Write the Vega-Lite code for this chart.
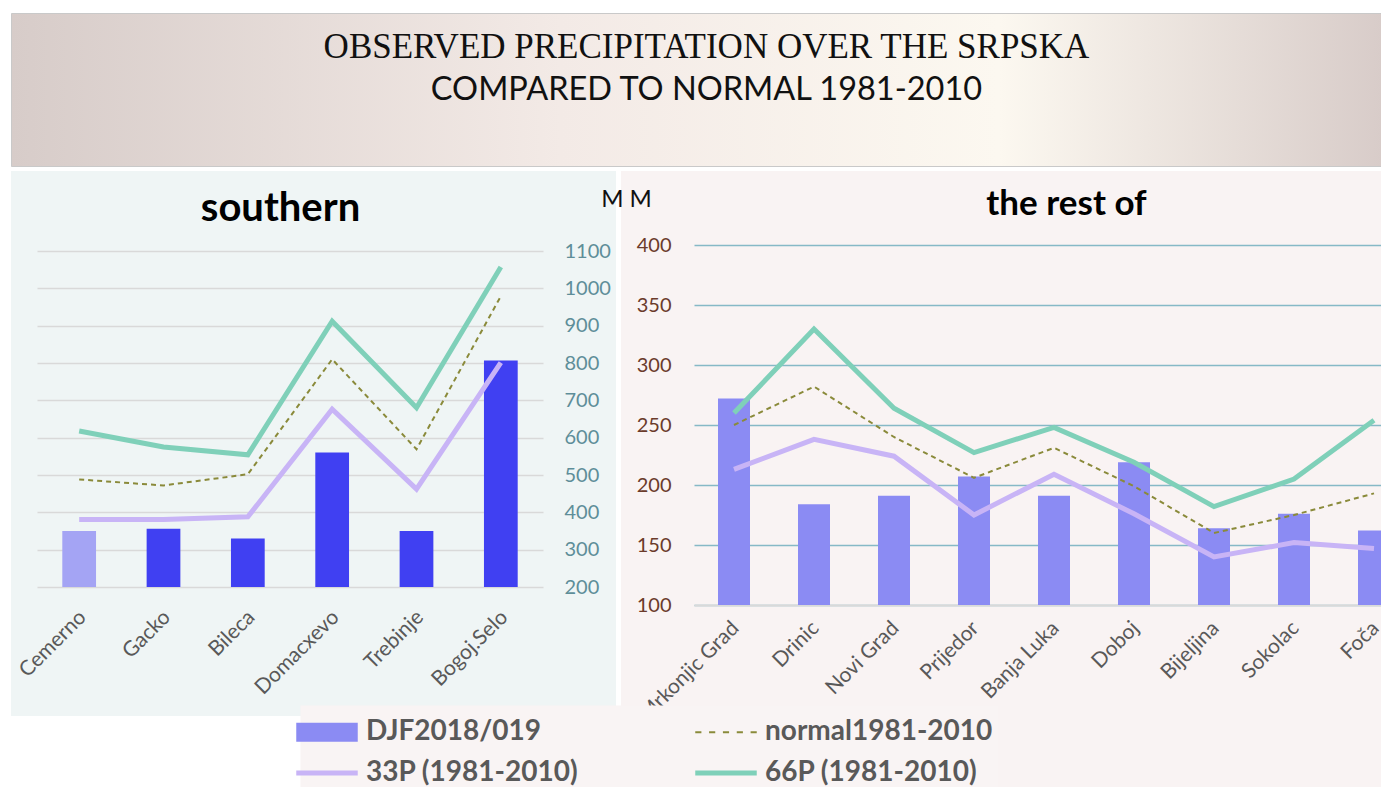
{
  "$schema": "https://vega.github.io/schema/vega-lite/v6.json",
  "padding": {"left": 10, "top": 12, "right": 0, "bottom": 0},
  "background": "white",
  "bounds": "flush",
  "spacing": 5,
  "datasets": {
    "banner": [
      {"line": 1, "t": "OBSERVED PRECIPITATION  OVER THE SRPSKA"},
      {"line": 2, "t": "COMPARED TO NORMAL 1981-2010"}
    ],
    "south": [
      {"station": "Cemerno", "djf": 350, "normal": 488, "p33": 381, "p66": 618},
      {"station": "Gacko", "djf": 356, "normal": 472, "p33": 381, "p66": 575},
      {"station": "Bileca", "djf": 330, "normal": 502, "p33": 388, "p66": 554},
      {"station": "Domacxevo", "djf": 560, "normal": 810, "p33": 676, "p66": 912},
      {"station": "Trebinje", "djf": 350, "normal": 569, "p33": 462, "p66": 680},
      {"station": "Bogoj.Selo", "djf": 807, "normal": 979, "p33": 801, "p66": 1057}
    ],
    "rest": [
      {"station": "Mrkonjic Grad", "djf": 272, "normal": 250, "p33": 213, "p66": 260},
      {"station": "Drinic", "djf": 184, "normal": 282, "p33": 238, "p66": 330},
      {"station": "Novi Grad", "djf": 191, "normal": 240, "p33": 224, "p66": 264},
      {"station": "Prijedor", "djf": 207, "normal": 206, "p33": 175, "p66": 227},
      {"station": "Banja Luka", "djf": 191, "normal": 231, "p33": 209, "p66": 248},
      {"station": "Doboj", "djf": 219, "normal": 199, "p33": 176, "p66": 219},
      {"station": "Bijeljina", "djf": 164, "normal": 160, "p33": 140, "p66": 182},
      {"station": "Sokolac", "djf": 176, "normal": 175, "p33": 152, "p66": 205},
      {"station": "Foča", "djf": 162, "normal": 193, "p33": 147, "p66": 254}
    ]
  },
  "vconcat": [
    {
      "width": 1371,
      "height": 153,
      "view": {
        "fill": {"gradient": "linear", "x1": 0, "x2": 1, "y1": 0, "y2": 0,
          "stops": [
            {"offset": 0, "color": "#d7ccc9"},
            {"offset": 0.4, "color": "#f3eae6"},
            {"offset": 0.72, "color": "#fcf8f0"},
            {"offset": 1, "color": "#d8ccc9"}
          ]},
        "stroke": "#c9c9c9"
      },
      "data": {"name": "banner"},
      "layer": [
        {
          "transform": [{"filter": "datum.line === 1"}],
          "mark": {"type": "text", "font": "Liberation Serif", "fontSize": 35, "color": "#111111", "dx": 10, "dy": -43},
          "encoding": {"text": {"field": "t"}}
        },
        {
          "transform": [{"filter": "datum.line === 2"}],
          "mark": {"type": "text", "font": "Lato", "fontSize": 32.5, "color": "#111111", "dx": 10, "dy": 0},
          "encoding": {"text": {"field": "t"}}
        }
      ]
    },
    {
      "bounds": "flush",
      "spacing": 5,
      "hconcat": [
        {
          "width": 605,
          "height": 545,
          "view": {"fill": "#eff5f5", "stroke": null},
          "title": {"text": "southern", "fontSize": 40, "fontWeight": "bold", "font": "Lato", "color": "#000000", "anchor": "middle", "frame": "group", "dx": -33, "offset": -78, "baseline": "middle"},
          "data": {"name": "south"},
          "resolve": {"axis": {"y": "independent"}},
          "encoding": {
            "x": {"field": "station", "type": "nominal", "sort": null,
              "scale": {"range": [26, 532], "paddingInner": 0.6, "paddingOuter": 0.3},
              "axis": {"orient": "bottom", "offset": -129, "domain": false, "ticks": false, "grid": false, "labelAngle": -45, "labelPadding": 19, "labelOffset": -4, "labelFontSize": 21, "labelColor": "#595959", "labelFont": "Lato", "title": null}}
          },
          "layer": [
            {
              "mark": {"type": "bar"},
              "encoding": {
                "y": {"field": "djf", "type": "quantitative",
                  "scale": {"domain": [200, 1100], "range": [416, 80], "nice": false, "zero": false},
                  "axis": {"orient": "left", "values": [200, 300, 400, 500, 600, 700, 800, 900, 1000, 1100], "grid": true, "gridColor": "#d9d9d9", "gridWidth": 1.5, "domain": false, "ticks": false, "labels": false, "title": null}},
                "y2": {"datum": 200},
                "color": {"condition": {"test": "datum.station === 'Cemerno'", "value": "#a4a4f4"}, "value": "#4040f2"}
              }
            },
            {
              "mark": {"type": "line", "strokeWidth": 2, "strokeDash": [5, 4]},
              "encoding": {
                "y": {"field": "normal", "type": "quantitative",
                  "axis": {"orient": "right", "values": [200, 300, 400, 500, 600, 700, 800, 900, 1000, 1100], "format": "d", "grid": false, "domain": false, "ticks": false, "labelPadding": -52, "offset": 0, "labelColor": "#5e8e99", "labelFontSize": 20, "labelFont": "Lato", "title": null}},
                "color": {"datum": "normal1981-2010", "type": "nominal",
                  "scale": {"domain": ["DJF2018/019", "normal1981-2010", "33P (1981-2010)", "66P (1981-2010)"], "range": ["#8b8bf3", "#8a8a3a", "#c8b4f6", "#7fd0b9"]},
                  "legend": {"title": null, "encode": {"symbols": {"update": {"shape": {"signal": "datum.value === 'DJF2018/019' ? 'M-1.5,-0.46L1.5,-0.46L1.5,0.46L-1.5,0.46Z' : (datum.value === 'normal1981-2010' ? 'M-1.5,-0.46M-1.5,-0.05L-1.2,-0.05L-1.2,0.05L-1.5,0.05ZM-0.825,-0.05L-0.525,-0.05L-0.525,0.05L-0.825,0.05ZM-0.15,-0.05L0.15,-0.05L0.15,0.05L-0.15,0.05ZM0.525,-0.05L0.825,-0.05L0.825,0.05L0.525,0.05ZM1.2,-0.05L1.5,-0.05L1.5,0.05L1.2,0.05ZM1.5,0.46' : 'M-1.5,-0.46M-1.5,-0.12L1.5,-0.12L1.5,0.12L-1.5,0.12ZM1.5,0.46')"}, "fill": {"scale": "color", "field": "value"}, "fillOpacity": {"value": 1}, "opacity": {"value": 1}, "strokeWidth": {"value": 0}, "stroke": {"value": "transparent"}}}}}}
              }
            },
            {
              "mark": {"type": "line", "strokeWidth": 5},
              "encoding": {
                "y": {"field": "p33", "type": "quantitative", "axis": null},
                "color": {"datum": "33P (1981-2010)", "type": "nominal"}
              }
            },
            {
              "mark": {"type": "line", "strokeWidth": 5},
              "encoding": {
                "y": {"field": "p66", "type": "quantitative", "axis": null},
                "color": {"datum": "66P (1981-2010)", "type": "nominal"}
              }
            }
          ]
        },
        {
          "width": 761,
          "height": 617,
          "view": {"fill": "#f9f3f3", "stroke": null},
          "title": {"text": "the rest of", "fontSize": 35, "fontWeight": "bold", "font": "Lato", "color": "#000000", "anchor": "middle", "frame": "group", "dx": 65, "offset": -68, "baseline": "middle"},
          "data": {"name": "rest"},
          "encoding": {
            "x": {"field": "station", "type": "nominal", "sort": null,
              "scale": {"range": [73, 793], "paddingInner": 0.6, "paddingOuter": 0.3},
              "axis": {"orient": "bottom", "offset": -183, "domain": true, "domainColor": "#d9d9d9", "domainWidth": 2, "ticks": false, "grid": false, "labelAngle": -45, "labelPadding": 12, "labelOffset": -6, "labelFontSize": 21, "labelColor": "#595959", "labelFont": "Lato", "title": null}}
          },
          "layer": [
            {
              "mark": {"type": "bar"},
              "encoding": {
                "y": {"field": "djf", "type": "quantitative",
                  "scale": {"domain": [100, 400], "range": [434, 74], "nice": false, "zero": false},
                  "axis": {"orient": "left", "values": [100, 150, 200, 250, 300, 350, 400], "grid": true, "gridColor": "#86b9c6", "gridWidth": 1.5, "domain": false, "ticks": false, "labelPadding": 0, "offset": -50, "labelColor": "#6b3b2b", "labelFontSize": 20, "labelFont": "Lato", "title": "M M", "titleAngle": 0, "titleX": -45, "titleY": 28, "titleAlign": "center", "titleBaseline": "middle", "titleFontSize": 24, "titleFontWeight": "normal", "titleFont": "Lato", "titleColor": "#111111"}},
                "y2": {"datum": 100},
                "color": {"datum": "DJF2018/019", "type": "nominal"}
              }
            },
            {
              "mark": {"type": "line", "strokeWidth": 2, "strokeDash": [5, 4]},
              "encoding": {
                "y": {"field": "normal", "type": "quantitative"},
                "color": {"datum": "normal1981-2010", "type": "nominal"}
              }
            },
            {
              "mark": {"type": "line", "strokeWidth": 5},
              "encoding": {
                "y": {"field": "p33", "type": "quantitative"},
                "color": {"datum": "33P (1981-2010)", "type": "nominal"}
              }
            },
            {
              "mark": {"type": "line", "strokeWidth": 5},
              "encoding": {
                "y": {"field": "p66", "type": "quantitative"},
                "color": {"datum": "66P (1981-2010)", "type": "nominal"}
              }
            }
          ]
        }
      ]
    }
  ],
  "resolve": {"scale": {"color": "shared"}},
  "config": {
    "font": "Lato",
    "view": {"stroke": null},
    "legend": {
      "orient": "none",
      "legendX": 289.5,
      "legendY": 692.5,
      "direction": "horizontal",
      "columns": 2,
      "columnPadding": 116,
      "rowPadding": 6,
      "symbolType": "M-1.5,-0.46L1.5,-0.46L1.5,0.46L-1.5,0.46Z",
      "symbolSize": 1681,
      "symbolStrokeWidth": 0,
      "labelFontSize": 28,
      "labelFont": "Lato",
      "labelFontWeight": "bold",
      "labelColor": "#595959",
      "labelOffset": 18.5,
      "labelLimit": 400,
      "padding": 6,
      "fillColor": "#f9f4f4"
    }
  }
}
